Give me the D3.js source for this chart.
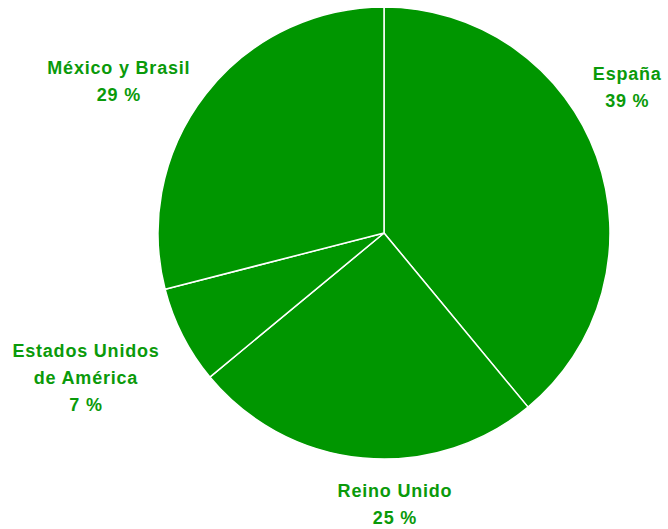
<!DOCTYPE html>
<html>
<head>
<meta charset="utf-8">
<script src="https://cdn.jsdelivr.net/npm/d3@7"></script>
<style>
  html, body { margin: 0; padding: 0; background: #ffffff; }
  svg { display: block; }
  .lbl { font-family: "Liberation Sans", Arial, Helvetica, sans-serif; font-weight: bold; font-size: 18px; letter-spacing: 0.8px; fill: #0a9a0a; }
</style>
</head>
<body>
<svg id="chart" width="668" height="529"></svg>
<script>
// Share of participants by origin (percent)
const categories = ["España", "Reino Unido", "Estados Unidos\nde América", "México y Brasil"];
const values = [39, 25, 7, 29];

// Label placement tweaks relative to the outer label ring (layout only)
const labelNudge = [[-7, -63], [36, -1], [-61, 3], [-55, 4]];

const width = 668, height = 529;
const cx = 384, cy = 233, radius = 226, labelRadius = 266, lineHeight = 27;

const svg = d3.select("#chart");
const g = svg.append("g").attr("transform", `translate(${cx},${cy})`);

const pie = d3.pie().sort(null).value(d => d.value);
const arcs = pie(categories.map((c, i) => ({ name: c, value: values[i], i })));

const arc = d3.arc().innerRadius(0).outerRadius(radius);

g.selectAll("path.slice")
  .data(arcs)
  .enter().append("path")
  .attr("class", "slice")
  .attr("d", arc)
  .attr("fill", "#009600")
  .attr("stroke", "#ffffff")
  .attr("stroke-width", 1.5)
  .attr("stroke-linejoin", "round");

const labels = g.selectAll("text.lbl")
  .data(arcs)
  .enter().append("text")
  .attr("class", "lbl")
  .attr("text-anchor", "middle")
  .attr("transform", d => {
    const a = (d.startAngle + d.endAngle) / 2;
    const n = labelNudge[d.data.i];
    const x = Math.sin(a) * labelRadius + n[0];
    const y = -Math.cos(a) * labelRadius + n[1];
    return `translate(${x},${y})`;
  });

labels.each(function(d) {
  const lines = d.data.name.split("\n").concat([d.data.value + " %"]);
  const t = d3.select(this);
  lines.forEach((ln, k) => {
    t.append("tspan").attr("x", 0).attr("y", k * lineHeight).text(ln);
  });
});
</script>
</body>
</html>
